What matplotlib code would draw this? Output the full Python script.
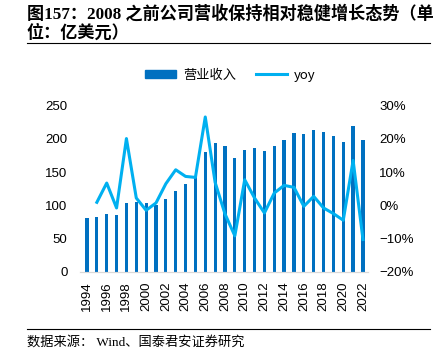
import matplotlib.pyplot as plt
import matplotlib.lines as mlines
import matplotlib.patches as mpatches

# Revenue (100M USD) and yoy growth (%)
years = list(range(1994, 2023))
revenue = [81, 82, 87, 86, 103, 105, 103, 101, 110, 122, 132, 142, 181, 194,
           189, 171, 184, 187, 182, 189, 199, 209, 208, 213, 211, 204, 195, 220, 198]
yoy_years = list(range(1995, 2023))
yoy = [0.9, 6.7, -0.8, 20.1, 2.2, -1.5, 0.7, 6.5, 10.7, 8.7, 8.4, 26.6, 6.9,
       -2.6, -9.2, 7.7, 2.2, -2.3, 3.7, 6.0, 5.4, -0.3, 2.7, -0.8, -2.5, -4.5,
       13.5, -10.3]
left_ticks = [0, 50, 100, 150, 200, 250]
right_ticks = [-20, -10, 0, 10, 20, 30]

bar_color = '#0070C0'
line_color = '#00B0F0'
W, H = 435, 355

fig = plt.figure(figsize=(W / 100, H / 100), dpi=100)
ax = fig.add_axes([80 / W, 1 - 271.7 / H, 288 / W, 166 / H])
ax2 = ax.twinx()

ax.bar(years, revenue, width=0.33, color=bar_color, zorder=2)
ax2.plot(yoy_years, yoy, color=line_color, linewidth=2.2, zorder=3)

ax.set_xlim(1993.29, 2022.51)
ax.set_ylim(0, 250)
ax2.set_ylim(-20, 30)
ax.set_yticks(left_ticks)
ax2.set_yticks(right_ticks)
ax2.set_yticklabels([f'{v}%'.replace('-', '\u2212') for v in right_ticks])
ax.set_xticks(years[::2])
ax.set_xticklabels([str(y) for y in years[::2]], rotation=90)

for a in (ax, ax2):
    for s in ('top', 'left', 'right'):
        a.spines[s].set_visible(False)
    a.spines['bottom'].set_color('#D9D9D9')
    a.tick_params(length=0, labelsize=9.5, labelcolor='#000000')
    for lab in a.get_xticklabels() + a.get_yticklabels():
        lab.set_family(['Liberation Sans', 'DejaVu Sans'])
ax.tick_params(axis='y', pad=9)
ax.tick_params(axis='x', pad=7)
ax2.tick_params(axis='y', pad=8)

# legend
handles = [mpatches.Patch(color=bar_color, label='营业收入'),
           mlines.Line2D([], [], color=line_color, linewidth=2.2, label='yoy')]
fig.legend(handles=handles, loc='center', bbox_to_anchor=(230 / W, 1 - 75 / H),
           ncol=2, frameon=False, handlelength=2.4, handleheight=0.5,
           columnspacing=1.5, handletextpad=0.5,
           prop={'family': ['Noto Sans CJK SC', 'DejaVu Sans'], 'size': 9.5})

# title
title_font = ['Liberation Serif', 'Noto Sans CJK SC']
fig.text(27 / W, 1 - 14 / H, '图157：2008 之前公司营收保持相对稳健增长态势（单',
         family=title_font, weight='bold', fontsize=12.3, va='center', ha='left')
fig.text(27 / W, 1 - 33 / H, '位：亿美元）',
         family=title_font, weight='bold', fontsize=12.3, va='center', ha='left')
fig.add_artist(mlines.Line2D([27 / W, 430 / W], [1 - 43 / H, 1 - 43 / H],
                             color='#000000', linewidth=0.8))

# footer
fig.add_artist(mlines.Line2D([27 / W, 430 / W], [1 - 329 / H, 1 - 329 / H],
                             color='#000000', linewidth=0.8))
fig.text(27 / W, 1 - 342 / H, '数据来源： Wind、国泰君安证券研究',
         family=title_font, fontsize=9.5, va='center', ha='left')

fig.savefig('out.png', dpi=100)
